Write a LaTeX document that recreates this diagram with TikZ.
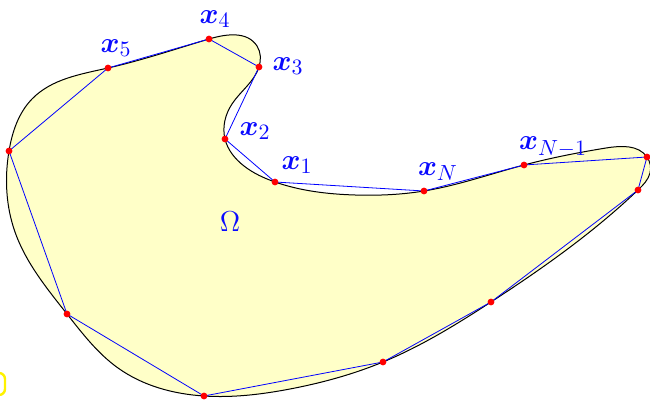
\documentclass[tikz,border=0pt]{standalone}
\usepackage{amsmath,amssymb,bm}
\usepackage{tikz}
\usetikzlibrary{hobby}
\definecolor{fillyel}{HTML}{FFFFC8}
\definecolor{lab}{HTML}{0A0AFF}
\tikzset{
  pt/.style={circle,fill=red,inner sep=0pt,minimum size=3.4pt},
  vlab/.style={text=lab,font=\fontsize{15}{17}\selectfont,inner sep=0pt},
  poly/.style={draw=blue,line width=0.4pt},
  bdry/.style={draw=black,line width=0.5pt,fill=fillyel},
}
\begin{document}
\begin{tikzpicture}[x=0.5pt,y=-0.5pt]
\useasboundingbox (0,0) rectangle (650,401);
% vertices on the boundary
\coordinate (x1) at (275,182);
\coordinate (x2) at (225,139);
\coordinate (x3) at (259,67);
\coordinate (x4) at (209,39);
\coordinate (x5) at (108,68);
\coordinate (p6) at (9,151);
\coordinate (p7) at (67,314);
\coordinate (p8) at (204,396);
\coordinate (p9) at (383,362);
\coordinate (p10) at (491,302);
\coordinate (p11) at (638,190);
\coordinate (p12) at (647,157);
\coordinate (xm) at (524,165);
\coordinate (xn) at (424,191);
% extra points shaping the curve
\coordinate (c1) at (244,166);
\coordinate (c2) at (232,104);
\coordinate (c3) at (257,46);
\coordinate (c4) at (32,99);
\coordinate (c5) at (15,232);
\coordinate (c6) at (118,368);
\coordinate (c7) at (290,389);
\coordinate (c8) at (650,173);
\coordinate (c9) at (606,148);
\coordinate (c10) at (355,195);
\draw[bdry,use Hobby shortcut,closed=true] (x1) .. (c1) .. (x2) .. (c2) .. (x3)
  .. (c3) .. (x4) .. (x5) .. (c4) .. (p6) .. (c5) .. (p7) .. (c6) .. (p8) .. (c7)
  .. (p9) .. (p10) .. (p11) .. (c8) .. (p12) .. (c9) .. (xm) .. (xn) .. (c10);
\draw[poly] (x1) -- (x2) -- (x3) -- (x4) -- (x5) -- (p6) -- (p7) -- (p8) -- (p9)
  -- (p10) -- (p11) -- (p12) -- (xm) -- (xn) -- cycle;
\foreach \p in {x1,x2,x3,x4,x5,p6,p7,p8,p9,p10,p11,p12,xm,xn}
  \node[pt] at (\p) {};
% labels
\node[vlab] (l1) at (297,165) {$\boldsymbol{x}_1$};
\node[vlab] (l2) at (255,131) {$\boldsymbol{x}_2$};
\node[vlab] (l3) at (288,66) {$\boldsymbol{x}_3$};
\node[vlab] (l4) at (215,19) {$\boldsymbol{x}_4$};
\node[vlab] (l5) at (116,48) {$\boldsymbol{x}_5$};
\node[vlab] (ln) at (438,172) {$\boldsymbol{x}_N$};
\node[vlab] (lm) at (553,147) {$\boldsymbol{x}_{N-1}$};
\node[vlab] (om) at (230,222) {$\Omega$};
% partly visible frame at the lower left
\draw[yellow,line width=1.2pt,rounded corners=3pt] (-30,373) rectangle (5,395);
\end{tikzpicture}
\end{document}
